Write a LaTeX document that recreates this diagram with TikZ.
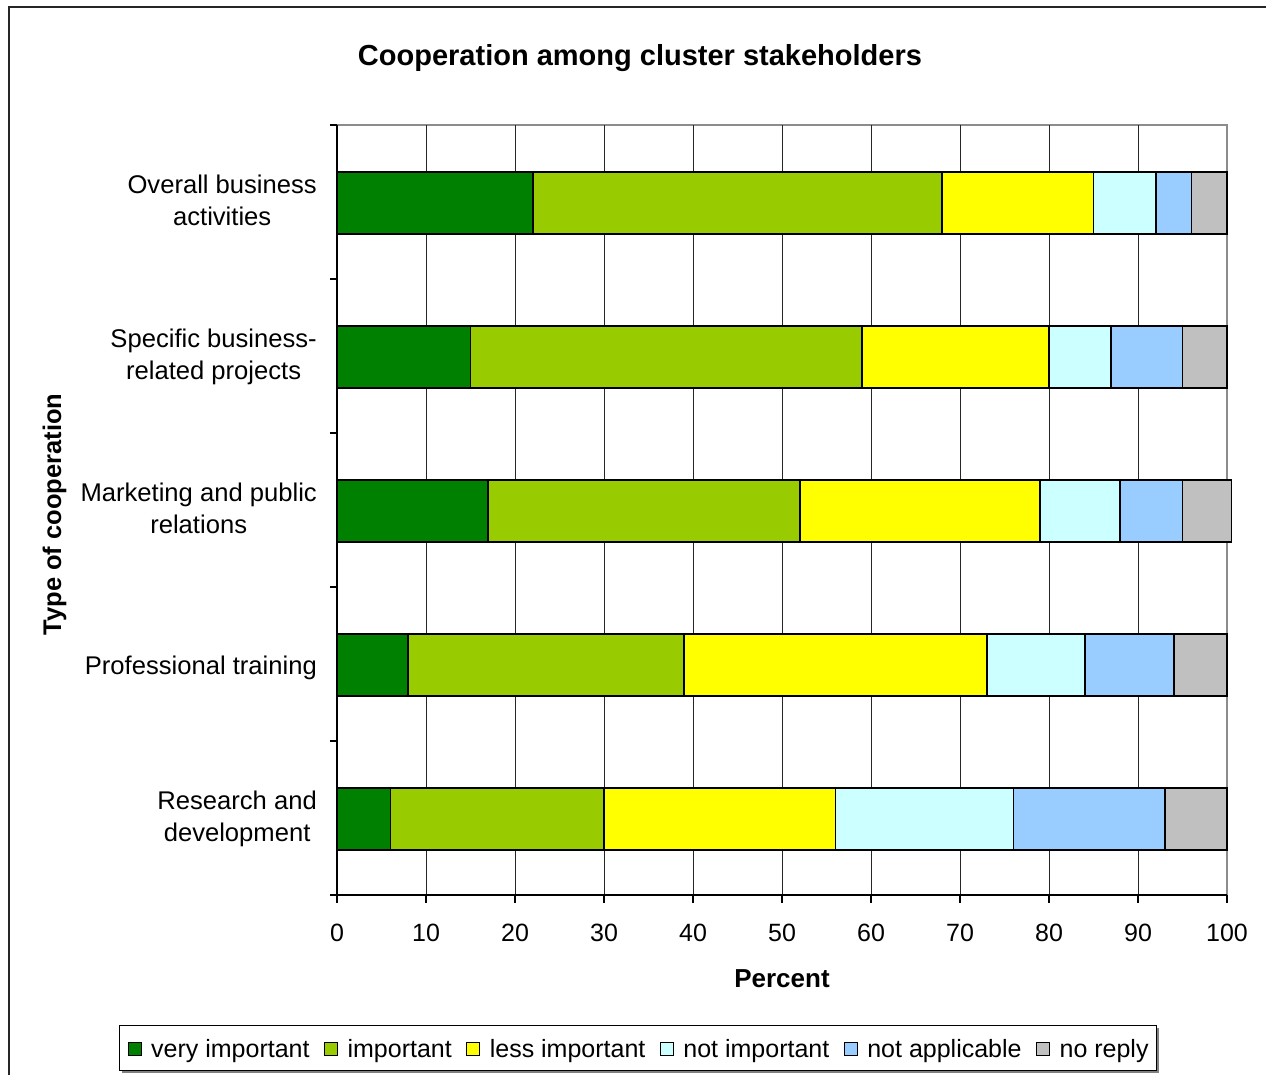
\documentclass[tikz,border=0pt]{standalone}
\usepackage{fontspec}
\setmainfont{Liberation Sans}
\usepackage{tikz}
\usetikzlibrary{positioning}

\definecolor{vimp}{HTML}{008000}
\definecolor{imp}{HTML}{99CC00}
\definecolor{limp}{HTML}{FFFF00}
\definecolor{nimp}{HTML}{CCFFFF}
\definecolor{napp}{HTML}{99CCFF}
\definecolor{norep}{HTML}{C0C0C0}

\begin{document}
\begin{tikzpicture}[x=1pt, y=-1pt,
    every node/.style={font=\fontsize{25pt}{32pt}\selectfont, inner sep=0pt},
    catlabel/.style={font=\fontsize{25.6pt}{32pt}\selectfont, anchor=east, align=center},
    bar/.style={draw=black, line width=1.8pt},
    grid/.style={draw=black!85, line width=1pt},
    axis/.style={draw=black, line width=1.5pt},
    swatch/.style={draw=black, line width=1pt, minimum size=13pt, outer sep=0pt},
    legtext/.style={text height=20pt, text depth=3pt}]
      \useasboundingbox (0,0) rectangle (1266,1074);
      \draw[black!85, line width=1.5pt] (9,1090) -- (9,7) -- (1280,7);

      \node[font=\fontsize{29pt}{34pt}\selectfont\bfseries, anchor=base] (Title) at (640,65) {Cooperation among cluster stakeholders};

      % plot area, x in percent
      \begin{scope}[xshift=337pt, x=8.9pt]
        \draw[black!45, line width=1.5pt] (0,125) -- (100,125) -- (100,895);
        \foreach \v in {10,20,...,90}
          \draw[grid] (\v,125) -- (\v,895);

        \foreach \a/\b/\c in {0/22/vimp, 22/68/imp, 68/85/limp, 85/92/nimp, 92/96/napp, 96/100/norep}
          \filldraw[bar, fill=\c] (\a,172) rectangle (\b,234);
        \foreach \a/\b/\c in {0/15/vimp, 15/59/imp, 59/80/limp, 80/87/nimp, 87/95/napp, 95/100/norep}
          \filldraw[bar, fill=\c] (\a,326) rectangle (\b,388);
        \foreach \a/\b/\c in {0/17/vimp, 17/52/imp, 52/79/limp, 79/88/nimp, 88/95/napp, 95/100.5/norep}
          \filldraw[bar, fill=\c] (\a,480) rectangle (\b,542);
        \foreach \a/\b/\c in {0/8/vimp, 8/39/imp, 39/73/limp, 73/84/nimp, 84/94/napp, 94/100/norep}
          \filldraw[bar, fill=\c] (\a,634) rectangle (\b,696);
        \foreach \a/\b/\c in {0/6/vimp, 6/30/imp, 30/56/limp, 56/76/nimp, 76/93/napp, 93/100/norep}
          \filldraw[bar, fill=\c] (\a,788) rectangle (\b,850);

        \draw[axis] (0,125) -- (0,895) -- (100,895);
        \foreach \v in {0,10,...,100} {
          \draw[axis] (\v,895) -- (\v,903);
          \node[anchor=base] (X\v) at (\v,941) {\v};
        }
      \end{scope}
      \foreach \y in {125,279,433,587,741,895}
        \draw[axis] (330,\y) -- (337,\y);

      \node[catlabel] (Overall) at (317,200) {Overall business\\activities};
      \node[catlabel] (Specific) at (317,356.5) {Specific business-\\related projects};
      \node[catlabel] (Marketing) at (317,508) {Marketing and public\\relations};
      \node[catlabel] (Training) at (317,667.5) {Professional training};
      \node[catlabel] (Research) at (317,818.5) {Research and\\development};

      \node[font=\fontsize{25.5pt}{30pt}\selectfont\bfseries, rotate=90, anchor=base] (YLab) at (61,514.5) {Type of cooperation};
      \node[font=\fontsize{26pt}{30pt}\selectfont\bfseries, anchor=base] (XLab) at (782,987) {Percent};

      % legend
      \fill[black!50] (122,1028) rectangle (1159,1073);
      \filldraw[fill=white, draw=black, line width=1pt] (119,1025) rectangle (1156,1070);
      \node[swatch, fill=vimp] (SwVimp) at (134.5,1048.5) {};
      \node[legtext, right=10pt of SwVimp] (LgVimp) {very important};
      \node[swatch, fill=imp, right=14.6pt of LgVimp] (SwImp) {};
      \node[legtext, right=10pt of SwImp] (LgImp) {important};
      \node[swatch, fill=limp, right=14.6pt of LgImp] (SwLimp) {};
      \node[legtext, right=10pt of SwLimp] (LgLimp) {less important};
      \node[swatch, fill=nimp, right=14.6pt of LgLimp] (SwNimp) {};
      \node[legtext, right=10pt of SwNimp] (LgNimp) {not important};
      \node[swatch, fill=napp, right=14.6pt of LgNimp] (SwNapp) {};
      \node[legtext, right=10pt of SwNapp] (LgNapp) {not applicable};
      \node[swatch, fill=norep, right=14.6pt of LgNapp] (SwNorep) {};
      \node[legtext, right=10pt of SwNorep] (LgNorep) {no reply};
    \end{tikzpicture}
\end{document}
